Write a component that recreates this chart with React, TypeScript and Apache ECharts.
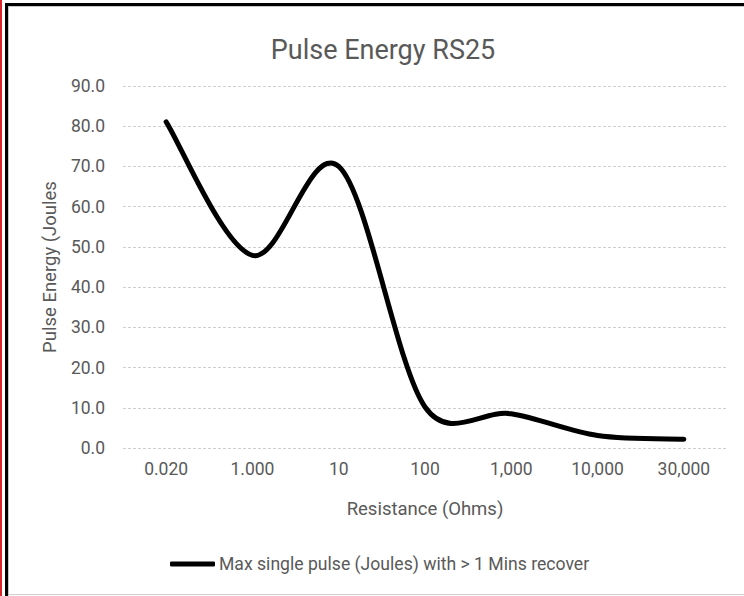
import React, { useEffect, useRef } from "react";
import * as echarts from "echarts";

const categories = ["0.020", "1.000", "10", "100", "1,000", "10,000", "30,000"];
const pulseEnergy = [81.1, 47.9, 70.0, 10.2, 8.5, 3.1, 2.2];
const seriesName = "Max single pulse (Joules) with > 1 Mins recover";
const titleText = "Pulse Energy RS25";
const xAxisName = "Resistance (Ohms)";
const yAxisName = "Pulse Energy (Joules";

const FONT = "Roboto, 'Liberation Sans', sans-serif";
const TEXT = "#595959";
const TENSION = 1 / 6;

// Excel-like smoothed path: Catmull-Rom tangents (1/6) capped at half the adjacent segment
function smoothPath(pts: number[][]): string {
  const n = pts.length;
  if (n < 2) return "";
  const cpAfter: number[][] = [];
  const cpBefore: number[][] = [];
  for (let i = 0; i < n; i++) {
    const p = pts[i];
    const prev = pts[Math.max(0, i - 1)];
    const next = pts[Math.min(n - 1, i + 1)];
    const vx = next[0] - prev[0];
    const vy = next[1] - prev[1];
    const vlen = Math.hypot(vx, vy);
    const dPrev = Math.hypot(p[0] - prev[0], p[1] - prev[1]);
    const dNext = Math.hypot(next[0] - p[0], next[1] - p[1]);
    let fB = TENSION;
    let fA = TENSION;
    if (vlen > 0) {
      if (vlen * fB > dPrev / 2 && i > 0) fB = dPrev / 2 / vlen;
      if (vlen * fA > dNext / 2 && i < n - 1) fA = dNext / 2 / vlen;
    }
    cpBefore.push([p[0] - vx * fB, p[1] - vy * fB]);
    cpAfter.push([p[0] + vx * fA, p[1] + vy * fA]);
  }
  let d = `M${pts[0][0]},${pts[0][1]}`;
  for (let i = 0; i < n - 1; i++) {
    const a = cpAfter[i];
    const b = cpBefore[i + 1];
    const q = pts[i + 1];
    d += ` C${a[0]},${a[1]} ${b[0]},${b[1]} ${q[0]},${q[1]}`;
  }
  return d;
}

export default function App() {
  const ref = useRef<HTMLDivElement>(null);
  useEffect(() => {
    document.body.style.margin = "0";
    const chart = echarts.init(ref.current!, null, { renderer: "svg" });
    chart.setOption({
      animation: false,
      backgroundColor: "#ffffff",
      textStyle: { fontFamily: FONT },
      title: {
        text: titleText,
        left: 378,
        top: 31,
        textAlign: "center",
        textStyle: { fontFamily: FONT, fontSize: 27, fontWeight: "normal", color: TEXT },
      },
      grid: { left: 123, right: 17, top: 86, bottom: 148, containLabel: false },
      xAxis: {
        type: "category",
        data: categories,
        boundaryGap: true,
        name: xAxisName,
        nameLocation: "middle",
        nameGap: 51,
        nameTextStyle: { fontFamily: FONT, fontSize: 18.5, color: TEXT },
        axisLine: { show: false },
        axisTick: { show: false },
        axisLabel: { fontFamily: FONT, fontSize: 17.5, color: TEXT, margin: 12 },
        splitLine: { show: false },
      },
      yAxis: {
        type: "value",
        min: 0,
        max: 90,
        interval: 10,
        name: yAxisName,
        nameLocation: "middle",
        nameGap: 62,
        nameRotate: 90,
        nameTextStyle: { fontFamily: FONT, fontSize: 18.5, color: TEXT },
        axisLine: { show: false },
        axisTick: { show: false },
        axisLabel: {
          fontFamily: FONT,
          fontSize: 17.5,
          color: TEXT,
          margin: 18,
          formatter: (v: number) => v.toFixed(1),
        },
        splitLine: { show: true, lineStyle: { color: "#cfcfcf", width: 1, type: [3, 2] } },
      },
      legend: {
        left: 170,
        top: 555,
        padding: 0,
        itemWidth: 45,
        itemHeight: 5,
        icon: "roundRect",
        textStyle: { fontFamily: FONT, fontSize: 17.6, color: TEXT, padding: [0, 0, 0, -1] },
        data: [seriesName],
      },
      series: [
        {
          name: seriesName,
          type: "custom",
          coordinateSystem: "cartesian2d",
          data: pulseEnergy.map((v, i) => [i, v]),
          encode: { x: 0, y: 1 },
          itemStyle: { color: "#000000" },
          clip: false,
          renderItem: (params: any, api: any) => {
            if (params.dataIndex !== 0) return null;
            const pts = pulseEnergy.map((v, i) => api.coord([i, v]));
            return {
              type: "path",
              shape: { pathData: smoothPath(pts) },
              style: {
                fill: "none",
                stroke: "#000000",
                lineWidth: 5,
                lineCap: "round",
                lineJoin: "round",
              },
              silent: true,
            };
          },
        },
      ],
      graphic: [
        { type: "rect", shape: { x: 0, y: 0, width: 2, height: 596 }, style: { fill: "#d9262b" }, silent: true },
        { type: "rect", shape: { x: 5, y: 3, width: 3, height: 593 }, style: { fill: "#000000" }, silent: true },
        { type: "rect", shape: { x: 5, y: 3, width: 739, height: 3 }, style: { fill: "#000000" }, silent: true },
        { type: "rect", shape: { x: 8, y: 6, width: 1, height: 590 }, style: { fill: "#c8c8c8" }, silent: true },
        { type: "rect", shape: { x: 8, y: 6, width: 736, height: 1 }, style: { fill: "#c8c8c8" }, silent: true },
        { type: "rect", shape: { x: 9, y: 594, width: 735, height: 1 }, style: { fill: "#d0d0d0" }, silent: true },
      ],
    });
    return () => chart.dispose();
  }, []);
  return <div ref={ref} style={{ width: 744, height: 596 }} />;
}
